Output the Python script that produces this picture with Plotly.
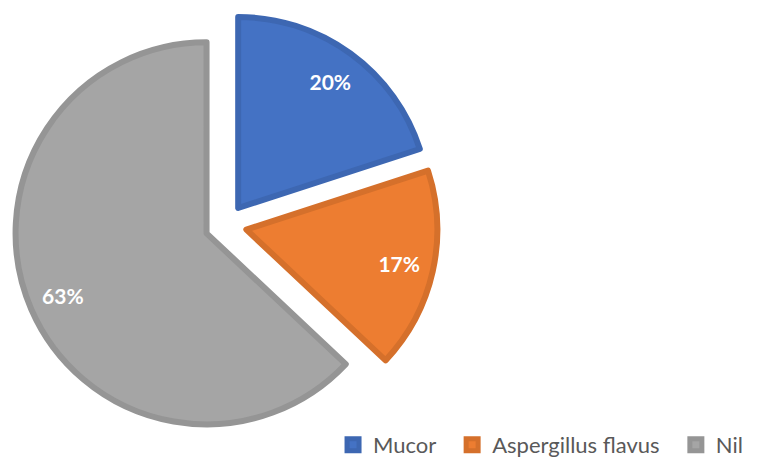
import plotly.graph_objects as go

labels = ["Mucor", "Aspergillus flavus", "Nil"]
values = [20, 17, 63]
fill_colors = ["#4472C4", "#ED7D31", "#A5A5A5"]
edge_colors = ["#3D67B2", "#D5702B", "#959595"]


def main():
    # a couple of non-breaking spaces so the legend entries sit further apart, like excel
    legend_labels = [l + "\u00a0" * 2 for l in labels[:-1]] + [labels[-1]]

    fig = go.Figure()

    # the slices themselves
    fig.add_trace(go.Pie(
        labels=legend_labels,
        values=values,
        sort=False,
        direction="clockwise",
        rotation=0,
        pull=[0.11, 0.11, 0.11],
        marker=dict(colors=fill_colors, line=dict(color=edge_colors, width=6)),
        textinfo="none",
        domain=dict(x=[0.005, 0.566], y=[0, 1]),
        hoverinfo="label+percent",
    ))

    # transparent ring on top, only to put the % labels further out like excel
    fig.add_trace(go.Pie(
        labels=legend_labels,
        values=values,
        sort=False,
        direction="clockwise",
        rotation=0,
        hole=0.64,
        pull=[0.11, 0.11, 0.11],
        marker=dict(colors=["rgba(0,0,0,0)"] * 3, line=dict(width=0)),
        texttemplate="<b>%{percent:.0%}</b>",
        textposition="inside",
        insidetextfont=dict(family="Lato", size=21, color="white"),
        insidetextorientation="horizontal",
        domain=dict(x=[0.005, 0.566], y=[0, 1]),
        showlegend=False,
        hoverinfo="skip",
    ))

    fig.update_layout(
        width=763, height=458,
        margin=dict(l=0, r=0, t=5, b=25),
        paper_bgcolor="white",
        plot_bgcolor="white",
        showlegend=True,
        legend=dict(
            orientation="h",
            x=0.426, xanchor="left",
            y=-0.019, yanchor="middle",
            font=dict(family="Lato", size=22, color="#595959"),
            traceorder="normal",
        ),
    )

    fig.write_html("out.html")


if __name__ == "__main__":
    main()
